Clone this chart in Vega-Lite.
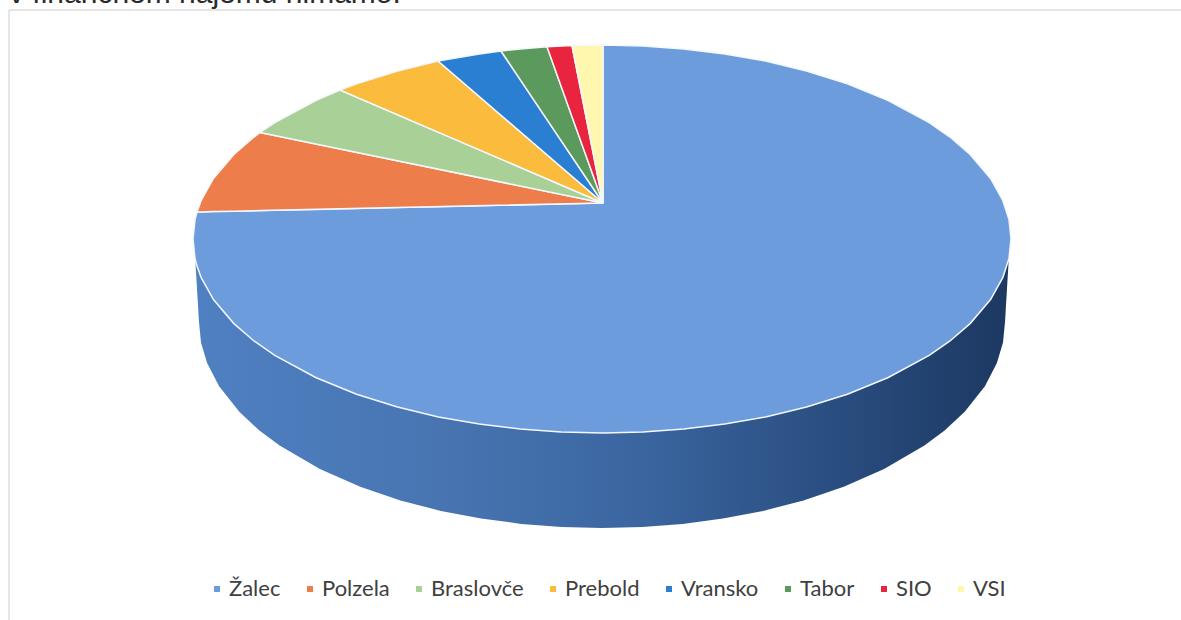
{"$schema":"https://vega.github.io/schema/vega-lite/v6.json","width":1181,"height":620,"padding":0,"autosize":{"type":"none"},"background":"white","config":{"view":{"stroke":null}},
"datasets":{
"body":[{"x":195,"y":255,"y2":255},{"x":199,"y":255,"y2":322},{"x":201,"y":255,"y2":342.6},{"x":207.1,"y":255,"y2":363},{"x":219.1,"y":255,"y2":386.3},{"x":239.3,"y":255,"y2":411.8},{"x":259.4,"y":255,"y2":430.6},{"x":279.6,"y":255,"y2":445.6},{"x":319.9,"y":255,"y2":469.1},{"x":360.2,"y":255,"y2":486.8},{"x":400.5,"y":255,"y2":500.4},{"x":440.8,"y":255,"y2":510.9},{"x":481.1,"y":255,"y2":518.5},{"x":521.4,"y":255,"y2":523.9},{"x":561.7,"y":255,"y2":527},{"x":602,"y":255,"y2":528},{"x":642.3,"y":255,"y2":527},{"x":682.6,"y":255,"y2":523.9},{"x":722.9,"y":255,"y2":518.5},{"x":763.2,"y":255,"y2":510.9},{"x":803.5,"y":255,"y2":500.4},{"x":843.8,"y":255,"y2":486.8},{"x":884.1,"y":255,"y2":469.1},{"x":924.4,"y":255,"y2":445.6},{"x":944.6,"y":255,"y2":430.6},{"x":964.7,"y":255,"y2":411.8},{"x":984.9,"y":255,"y2":386.3},{"x":996.9,"y":255,"y2":363},{"x":1003,"y":255,"y2":342.6},{"x":1005,"y":255,"y2":322},{"x":1009,"y":255,"y2":255}],
"slices":[
{"slice":"Žalec","x":193,"y":239,"y2":239},{"slice":"Žalec","x":195,"y":219.6,"y2":258.4},{"slice":"Žalec","x":197,"y":212,"y2":266},{"slice":"Žalec","x":201.2,"y":211.9,"y2":277.6},{"slice":"Žalec","x":213.45,"y":211.6,"y2":299.5},{"slice":"Žalec","x":233.9,"y":211.2,"y2":323.6},{"slice":"Žalec","x":254.35,"y":210.7,"y2":341.2},{"slice":"Žalec","x":274.8,"y":210.3,"y2":355.4},{"slice":"Žalec","x":315.7,"y":209.4,"y2":377.5},{"slice":"Žalec","x":356.6,"y":208.5,"y2":394.2},{"slice":"Žalec","x":397.5,"y":207.6,"y2":407},{"slice":"Žalec","x":438.4,"y":206.7,"y2":416.9},{"slice":"Žalec","x":479.3,"y":205.8,"y2":424.1},{"slice":"Žalec","x":520.2,"y":204.9,"y2":429.1},{"slice":"Žalec","x":561.1,"y":203.9,"y2":432},{"slice":"Žalec","x":603,"y":203,"y2":433},{"slice":"Žalec","x":603.01,"y":45,"y2":433},{"slice":"Žalec","x":642.9,"y":46,"y2":432},{"slice":"Žalec","x":683.8,"y":48.9,"y2":429.1},{"slice":"Žalec","x":724.7,"y":53.9,"y2":424.1},{"slice":"Žalec","x":765.6,"y":61.1,"y2":416.9},{"slice":"Žalec","x":806.5,"y":71,"y2":407},{"slice":"Žalec","x":847.4,"y":83.8,"y2":394.2},{"slice":"Žalec","x":888.3,"y":100.5,"y2":377.5},{"slice":"Žalec","x":929.2,"y":122.6,"y2":355.4},{"slice":"Žalec","x":949.65,"y":136.8,"y2":341.2},{"slice":"Žalec","x":970.1,"y":154.4,"y2":323.6},{"slice":"Žalec","x":990.55,"y":178.5,"y2":299.5},{"slice":"Žalec","x":1002.8,"y":200.4,"y2":277.6},{"slice":"Žalec","x":1009,"y":219.6,"y2":258.4},{"slice":"Žalec","x":1011,"y":239,"y2":239},
{"slice":"Polzela","x":197,"y":212,"y2":212},{"slice":"Polzela","x":201.2,"y":200.4,"y2":211.9},{"slice":"Polzela","x":213.45,"y":178.5,"y2":211.6},{"slice":"Polzela","x":233.9,"y":154.4,"y2":211.2},{"slice":"Polzela","x":254.35,"y":136.8,"y2":210.7},{"slice":"Polzela","x":260,"y":132.5,"y2":210.6},{"slice":"Polzela","x":603,"y":203,"y2":203},
{"slice":"Braslovče","x":260,"y":132.5,"y2":132.5},{"slice":"Braslovče","x":274.8,"y":122.6,"y2":135.5},{"slice":"Braslovče","x":315.7,"y":100.5,"y2":143.9},{"slice":"Braslovče","x":340,"y":90,"y2":148.9},{"slice":"Braslovče","x":603,"y":203,"y2":203},
{"slice":"Prebold","x":340,"y":90,"y2":90},{"slice":"Prebold","x":356.6,"y":83.8,"y2":97.1},{"slice":"Prebold","x":397.5,"y":71,"y2":114.7},{"slice":"Prebold","x":438,"y":61,"y2":132.1},{"slice":"Prebold","x":603,"y":203,"y2":203},
{"slice":"Vransko","x":438,"y":61,"y2":61},{"slice":"Vransko","x":479.3,"y":53.9,"y2":96.5},{"slice":"Vransko","x":501,"y":51,"y2":115.2},{"slice":"Vransko","x":603,"y":203,"y2":203},
{"slice":"Tabor","x":501,"y":51,"y2":51},{"slice":"Tabor","x":520.2,"y":48.9,"y2":79.6},{"slice":"Tabor","x":547,"y":46.7,"y2":119.6},{"slice":"Tabor","x":603,"y":203,"y2":203},
{"slice":"SIO","x":547,"y":46.7,"y2":46.7},{"slice":"SIO","x":572,"y":45.5,"y2":116.7},{"slice":"SIO","x":603,"y":203,"y2":203},
{"slice":"VSI","x":572,"y":45.5,"y2":45.5},{"slice":"VSI","x":603,"y":45,"y2":203}
]},
"layer":[
{"data":{"values":[{"x":9,"y":10,"x2":1181,"y2":10},{"x":9,"y":10,"x2":9,"y2":620}]},"mark":{"type":"rule","color":"#dcdcdc","strokeWidth":1.5},"encoding":{"x":{"field":"x","type":"quantitative","scale":{"domain":[0,1181]},"axis":null},"y":{"field":"y","type":"quantitative","scale":{"domain":[620,0]},"axis":null},"x2":{"field":"x2"},"y2":{"field":"y2"}}},
{"data":{"values":[{"label":"v finančnem najemu nimamo.","x":9,"y":3}]},"mark":{"type":"text","align":"left","baseline":"alphabetic","font":"Liberation Sans","fontSize":30,"color":"#2b2b2b"},"encoding":{"x":{"field":"x","type":"quantitative","scale":{"domain":[0,1181]},"axis":null},"y":{"field":"y","type":"quantitative","scale":{"domain":[620,0]},"axis":null},"text":{"field":"label"}}},
{"data":{"name":"body"},"mark":{"type":"area","color":{"gradient":"linear","x1":0,"x2":1,"y1":0,"y2":0,"stops":[{"offset":0,"color":"#4f80c2"},{"offset":0.3,"color":"#4875b2"},{"offset":0.55,"color":"#3a659f"},{"offset":0.8,"color":"#294c7e"},{"offset":1,"color":"#1c3861"}]}},"encoding":{"x":{"field":"x","type":"quantitative","scale":{"domain":[0,1181]},"axis":null},"y":{"field":"y","type":"quantitative","stack":null,"scale":{"domain":[620,0]},"axis":null},"y2":{"field":"y2"}}},
{"data":{"name":"slices"},"mark":{"type":"area","stroke":"#f4f8fc","strokeWidth":1.5},"encoding":{"x":{"field":"x","type":"quantitative","scale":{"domain":[0,1181]},"axis":null},"y":{"field":"y","type":"quantitative","stack":null,"scale":{"domain":[620,0]},"axis":null},"y2":{"field":"y2"},"color":{"field":"slice","type":"nominal","title":null,"scale":{"domain":["Žalec","Polzela","Braslovče","Prebold","Vransko","Tabor","SIO","VSI"],"range":["#6c9cdc","#ed7d4a","#a9d096","#fbbb3c","#2a7fd2","#5b9a5c","#e8243f","#fff7ae"]},"legend":{"orient":"none","legendX":206,"legendY":578,"direction":"horizontal","columns":8,"symbolType":"square","symbolSize":36,"symbolStrokeWidth":0,"labelFont":"Lato","labelFontSize":22,"labelColor":"#404040","labelOffset":1,"columnPadding":18,"labelLimit":200}}}}
]}
